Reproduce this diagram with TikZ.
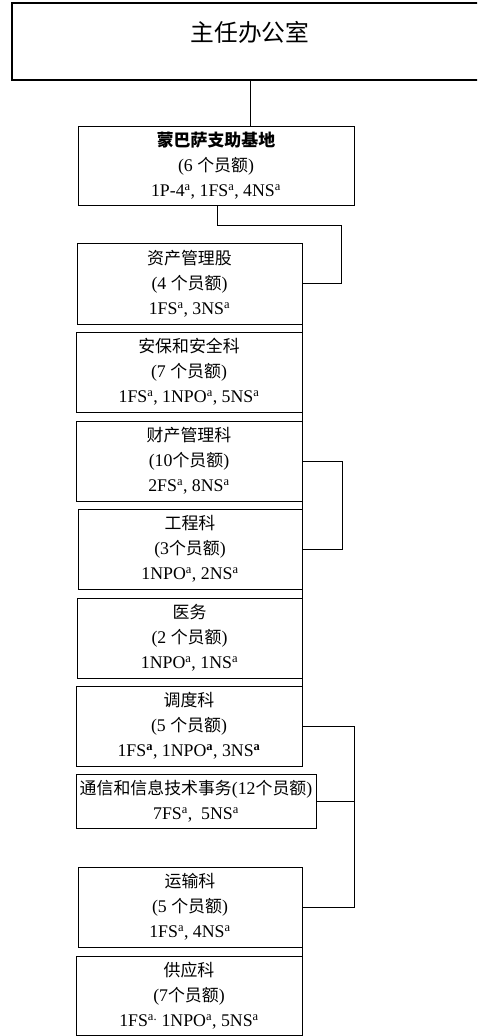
\documentclass[tikz,border=0pt]{standalone}
\usepackage{fontspec}
\setmainfont{Liberation Serif}
\newfontfamily\cjk[Scale=0.95]{Noto Sans CJK SC}
\newcommand\zh[1]{{\cjk #1}}
\newcommand\sa{\textsuperscript{a}}
\usetikzlibrary{calc}
\begin{document}
\begin{tikzpicture}[x=1pt,y=-1pt,
  box/.style={draw, line width=0.6pt, align=center, inner sep=0pt,
    font=\fontsize{17.8}{25}\selectfont},
  conn/.style={draw, line width=0.7pt}]
\useasboundingbox (0,0) rectangle (477,1036);
\begin{scope}
\clip (0,0) rectangle (477,1036);
% top box
\node[draw, line width=1.2pt, minimum width=480pt, minimum height=77pt, inner sep=0pt] (dir) at (252,41.5) {};
\end{scope}
\node[font=\fontsize{25}{25}\selectfont, inner sep=0pt] (dirt) at (250,32) {\zh{主任办公室}};
\node[box, minimum width=276pt, minimum height=79pt] (mom) at (216,165.5)
  {\zh{\bfseries 蒙巴萨支助基地}\\(6 \zh{个员额})\\1P-4\sa, 1FS\sa, 4NS\sa};
\node[box, minimum width=225pt, minimum height=81pt] (asset) at (189.5,283.5)
  {\zh{资产管理股}\\(4 \zh{个员额})\\1FS\sa, 3NS\sa};
\node[box, minimum width=226pt, minimum height=80pt] (sec) at (189,372)
  {\zh{安保和安全科}\\(7 \zh{个员额})\\1FS\sa, 1NPO\sa, 5NS\sa};
\node[box, minimum width=226pt, minimum height=80pt] (prop) at (189,461)
  {\zh{财产管理科}\\(10\zh{个员额})\\2FS\sa, 8NS\sa};
\node[box, minimum width=224pt, minimum height=80pt] (eng) at (190,549)
  {\zh{工程科}\\(3\zh{个员额})\\1NPO\sa, 2NS\sa};
\node[box, minimum width=225pt, minimum height=80pt] (med) at (189.5,638)
  {\zh{医务}\\(2 \zh{个员额})\\1NPO\sa, 1NS\sa};
\node[box, minimum width=226pt, minimum height=80pt] (disp) at (189,726)
  {\zh{调度科}\\(5 \zh{个员额})\\1FS\textsuperscript{\textbf{a}}, 1NPO\textsuperscript{\textbf{a}}, 3NS\textsuperscript{\textbf{a}}};
\node[box, minimum width=240pt, minimum height=54pt] (comms) at (196,801)
  {\zh{通信和信息技术事务}(12\zh{个员额})\\7FS\sa,\ \ 5NS\sa};
\node[box, minimum width=224pt, minimum height=80pt] (trans) at (190,907)
  {\zh{运输科}\\(5 \zh{个员额})\\1FS\sa, 4NS\sa};
\node[box, minimum width=226pt, minimum height=79pt] (sup) at (189,995.5)
  {\zh{供应科}\\(7\zh{个员额})\\1FS\textsuperscript{a.} 1NPO\sa, 5NS\sa};
% connectors
\coordinate (t1) at (250,0);
\draw[conn] (dir.south -| t1) -- (mom.north -| t1);
\coordinate (m1) at (217,225);
\coordinate (b1) at (341,0);
\draw[conn] (mom.south -| m1) -- (m1) -| (b1 |- asset.east) -- (asset.east);
\draw[conn] (asset.east) -- (disp.north east);
\coordinate (b2) at (342,0);
\draw[conn] (prop.east) -- (prop.east -| b2) |- (eng.east);
\coordinate (b3) at (354,0);
\draw[conn, line width=1pt] (disp.east) -- (disp.east -| b3) |- (trans.east);
\draw[conn, line width=1pt] (comms.east) -- (comms.east -| b3);
\draw[conn] (trans.east) -- (sup.north east);
\end{tikzpicture}
\end{document}
